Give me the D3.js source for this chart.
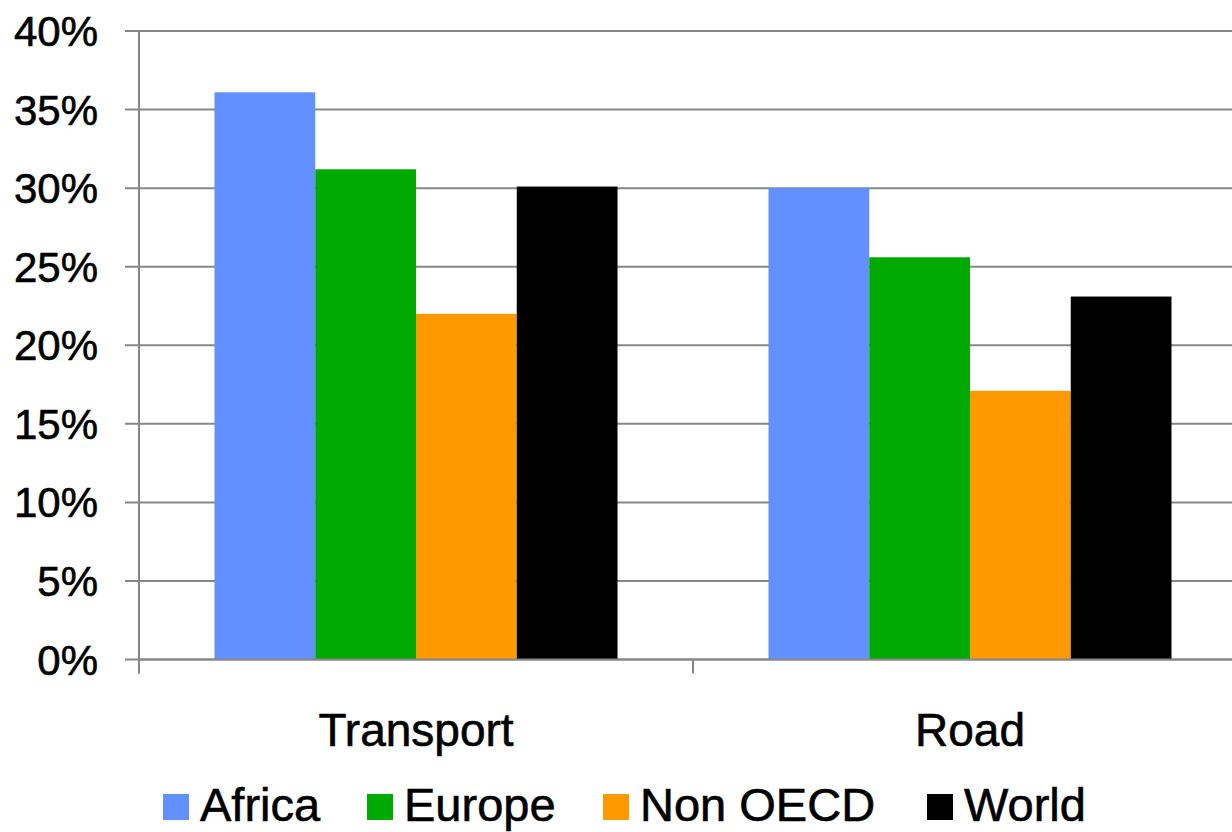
<!DOCTYPE html>
<html>
<head>
<meta charset="utf-8">
<script src="https://cdn.jsdelivr.net/npm/d3@7"></script>
<style>
  body { margin: 0; background: #fff; }
  text { font-family: Arial, "Liberation Sans", sans-serif; fill: #000; stroke: #000; stroke-width: 0.6px; }
</style>
</head>
<body>
<div id="chart"></div>
<script>
// data
var categories = ['Transport', 'Road'];
var seriesNames = ['Africa', 'Europe', 'Non OECD', 'World'];
var africa = [36.1, 30.0];
var europe = [31.2, 25.6];
var nonOecd = [22.0, 17.1];
var world = [30.1, 23.1];
var yTicks = [0, 5, 10, 15, 20, 25, 30, 35, 40];

var seriesValues = [africa, europe, nonOecd, world];
var colors = ['#6390ff', '#00aa00', '#ff9900', '#000000'];

var svgWidth = 1232;
var svgHeight = 832;

var svg = d3
  .select('#chart')
  .append('svg')
  .attr('width', svgWidth)
  .attr('height', svgHeight);

// plot area (runs a bit past the right edge, like the original)
var x0 = 139;
var x1 = 1247;
var yTop = 31;
var yBottom = 659.5;

var xScale = d3.scaleBand().domain(categories).range([x0, x1]).paddingInner(0).paddingOuter(0);

var innerPad = 75.5;
var xSeries = d3
  .scaleBand()
  .domain(seriesNames)
  .range([innerPad, xScale.bandwidth() - innerPad]);

var yScale = d3.scaleLinear().domain([0, 40]).range([yBottom, yTop]);

// gridlines
svg
  .append('g')
  .selectAll('line')
  .data(yTicks)
  .enter()
  .append('line')
  .attr('x1', x0 - 14)
  .attr('x2', x1)
  .attr('y1', (d) => yScale(d))
  .attr('y2', (d) => yScale(d))
  .attr('stroke', '#878787')
  .attr('stroke-width', 2);

// y labels
svg
  .append('g')
  .selectAll('text')
  .data(yTicks)
  .enter()
  .append('text')
  .attr('x', 98)
  .attr('y', (d) => yScale(d))
  .attr('dy', '0.36em')
  .attr('text-anchor', 'end')
  .style('font-size', '42px')
  .text((d) => d + '%');

// bars
var rows = [];
seriesNames.forEach(function (s, i) {
  categories.forEach(function (c, j) {
    rows.push({ series: s, cat: c, value: seriesValues[i][j], color: colors[i] });
  });
});

svg
  .append('g')
  .selectAll('rect')
  .data(rows)
  .enter()
  .append('rect')
  .attr('x', (d) => xScale(d.cat) + xSeries(d.series))
  .attr('y', (d) => yScale(d.value))
  .attr('width', xSeries.bandwidth())
  .attr('height', (d) => yBottom - yScale(d.value))
  .attr('fill', (d) => d.color);

// value axis line
svg
  .append('line')
  .attr('x1', x0)
  .attr('x2', x0)
  .attr('y1', yTop)
  .attr('y2', yBottom + 14)
  .attr('stroke', '#878787')
  .attr('stroke-width', 2);

// category axis line + ticks
svg
  .append('line')
  .attr('x1', x0)
  .attr('x2', x1)
  .attr('y1', yBottom)
  .attr('y2', yBottom)
  .attr('stroke', '#878787')
  .attr('stroke-width', 2);

var catTicks = [x0, xScale(categories[1]), x1];
svg
  .append('g')
  .selectAll('line')
  .data(catTicks)
  .enter()
  .append('line')
  .attr('x1', (d) => d)
  .attr('x2', (d) => d)
  .attr('y1', yBottom)
  .attr('y2', yBottom + 14)
  .attr('stroke', '#878787')
  .attr('stroke-width', 2);

// category labels
svg
  .append('g')
  .selectAll('text')
  .data(categories)
  .enter()
  .append('text')
  .attr('x', (d) => xScale(d) + xScale.bandwidth() / 2)
  .attr('y', 746)
  .attr('text-anchor', 'middle')
  .style('font-size', '46px')
  .text((d) => d);

// legend
var legendX = [163, 367, 603, 927];
var legend = svg
  .append('g')
  .selectAll('g')
  .data(seriesNames)
  .enter()
  .append('g')
  .attr('transform', (d, i) => `translate(${legendX[i]}, 794)`);

legend
  .append('rect')
  .attr('width', 26)
  .attr('height', 26)
  .attr('fill', (d, i) => colors[i]);

legend
  .append('text')
  .attr('x', 37)
  .attr('y', 27)
  .style('font-size', '47px')
  .text((d) => d);
</script>
</body>
</html>
